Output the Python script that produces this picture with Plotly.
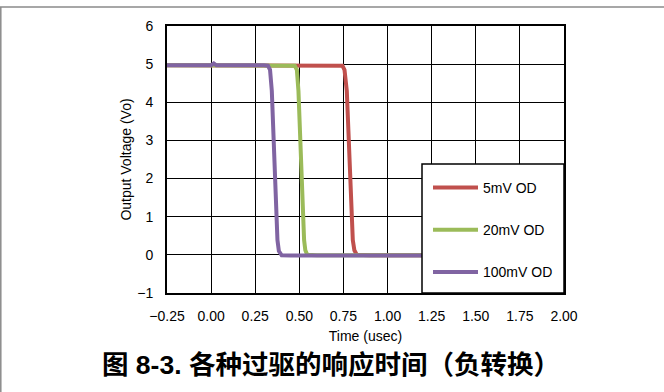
import plotly.graph_objects as go

# ---- data ----
t_5mv = [-0.25, 0.50, 0.744, 0.756, 0.769, 0.803, 0.812, 0.826, 0.90, 2.00]
v_5mv = [4.97, 4.97, 4.96, 4.85, 4.30, 0.39, 0.12, 0.00, -0.01, -0.01]

t_20mv = [-0.25, 0.30, 0.474, 0.486, 0.495, 0.527, 0.534, 0.545, 0.60, 2.00]
v_20mv = [4.97, 4.97, 4.96, 4.85, 4.30, 0.39, 0.12, 0.00, -0.01, -0.01]

t_100mv = [-0.25, 0.00, 0.015, 0.03, 0.30, 0.322, 0.334, 0.344, 0.376, 0.384, 0.40, 0.45, 2.00]
v_100mv = [4.97, 4.97, 5.02, 4.97, 4.97, 4.96, 4.85, 4.30, 0.39, 0.10, -0.01, -0.02, -0.02]

series_names = ["5mV OD", "20mV OD", "100mV OD"]
series_colors = ["#C0504D", "#9BBB59", "#8064A2"]

x_ticks = [-0.25, 0.0, 0.25, 0.5, 0.75, 1.0, 1.25, 1.5, 1.75, 2.0]
y_ticks = [-1, 0, 1, 2, 3, 4, 5, 6]

caption = "图 8-3. 各种过驱的响应时间（负转换）"

fig = go.Figure()
for i, (t, v) in enumerate([(t_5mv, v_5mv), (t_20mv, v_20mv), (t_100mv, v_100mv)]):
    fig.add_trace(go.Scatter(
        x=t, y=v, mode="lines", name=series_names[i],
        legendgroup=series_names[i],
        line=dict(color=series_colors[i], width=4),
    ))

W, H = 664, 392
L, R, T, B = 167, 100, 26, 99
pw, ph = W - L - R, H - T - B

def px_x(p):
    return (p - L) / pw

def px_y(p):
    return (H - B - p) / ph

base = "Liberation Sans, Arial, sans-serif"
axis_font = dict(family=base, size=14, color="black")

fig.update_layout(
    width=W, height=H,
    margin=dict(l=L, r=R, t=T, b=B),
    paper_bgcolor="white", plot_bgcolor="white",
    font=axis_font,
    showlegend=True,
    legend=dict(
        x=px_x(428), y=px_y(172), xanchor="left", yanchor="top",
        bgcolor="rgba(0,0,0,0)", borderwidth=0,
        font=dict(family=base, size=14, color="black"),
        tracegroupgap=21, itemwidth=45,
    ),
    xaxis=dict(
        range=[-0.25, 2.0], tickvals=x_ticks, tickformat=".2f",
        showgrid=True, gridcolor="black", gridwidth=1,
        showline=True, linecolor="black", linewidth=2, mirror=True,
        zeroline=False, ticks="", ticklabelstandoff=9,
        title=dict(text="Time (usec)", font=dict(size=14), standoff=8),
        tickfont=axis_font,
    ),
    yaxis=dict(
        range=[-1, 6], tickvals=y_ticks,
        showgrid=True, gridcolor="black", gridwidth=1,
        showline=True, linecolor="black", linewidth=2, mirror=True,
        zeroline=False, ticks="", ticklabelstandoff=9,
        title=dict(text="Output Voltage (Vo)", font=dict(size=14), standoff=2),
        tickfont=axis_font,
    ),
    shapes=[
        # legend box
        dict(type="rect", xref="paper", yref="paper",
             x0=px_x(422), x1=px_x(564), y0=px_y(293), y1=px_y(164),
             fillcolor="white", line=dict(color="black", width=1.5), layer="above"),
        # page frame lines
        dict(type="line", xref="paper", yref="paper",
             x0=px_x(0), x1=px_x(664), y0=px_y(7), y1=px_y(7),
             line=dict(color="#8a8a8a", width=1.5)),
        dict(type="line", xref="paper", yref="paper",
             x0=px_x(0.8), x1=px_x(0.8), y0=px_y(7), y1=px_y(392),
             line=dict(color="#8a8a8a", width=1.5)),
    ],
    annotations=[
        dict(text="<b>" + caption + "</b>", xref="paper", yref="paper",
             x=px_x(331), y=px_y(365), xanchor="center", yanchor="middle",
             showarrow=False,
             font=dict(family="Liberation Sans, Noto Sans CJK SC, sans-serif", size=26.5, color="black")),
    ],
)

fig.write_html(
    "out.html",
    config={"displayModeBar": False},
    post_script="document.body.style.margin='0';document.body.style.overflow='hidden';",
)
